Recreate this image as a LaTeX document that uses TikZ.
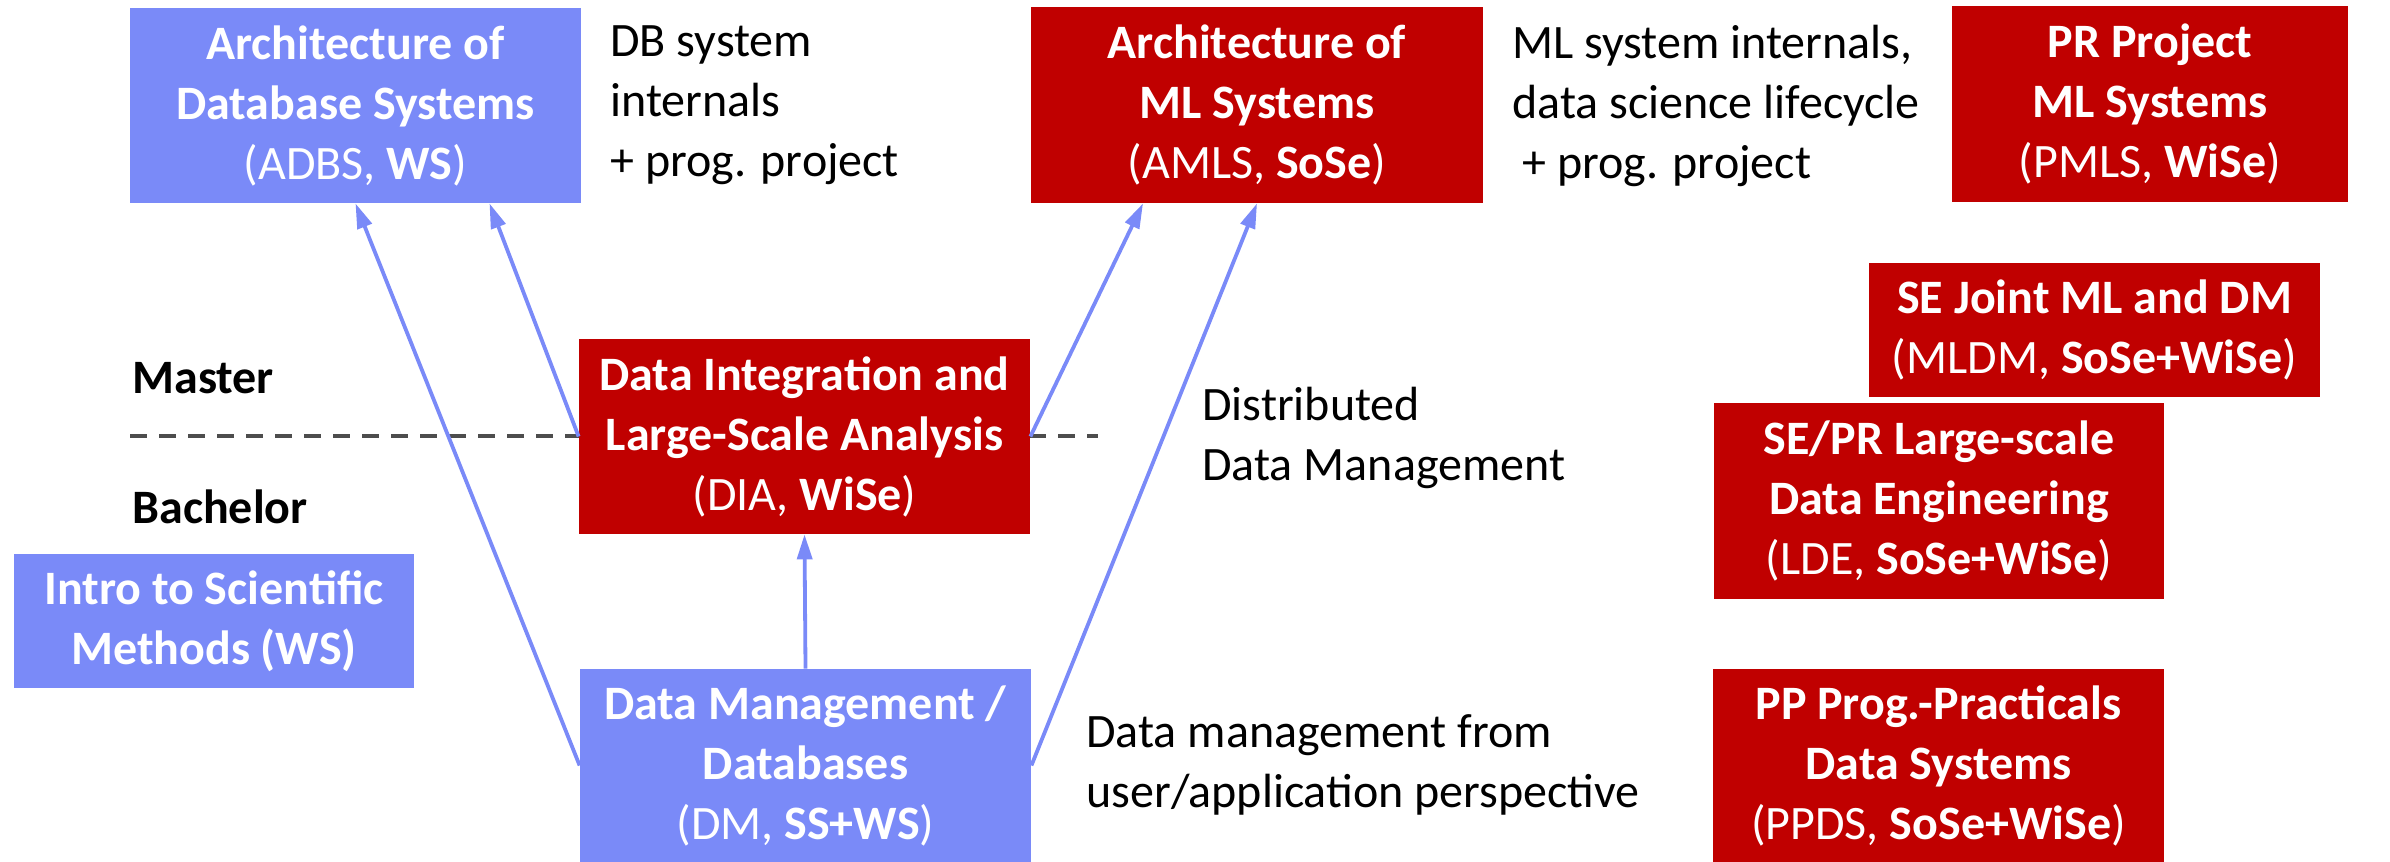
\documentclass[tikz,border=0pt]{standalone}
\usepackage{fontspec}
\setmainfont{Carlito}
\usetikzlibrary{arrows.meta}
\definecolor{boxblue}{RGB}{122,138,248}
\definecolor{boxred}{RGB}{192,0,0}
\definecolor{dashgray}{RGB}{77,77,77}
\tikzset{
  box/.style={rectangle, inner sep=0pt, text=white, align=center, font=\fontsize{24}{30}\selectfont},
  bluebox/.style={box, fill=boxblue},
  redbox/.style={box, fill=boxred},
  desc/.style={anchor=west, align=left, inner sep=0pt, font=\fontsize{24}{30}\selectfont},
  lvl/.style={anchor=west, inner sep=0pt, font=\fontsize{24}{30}\selectfont\bfseries},
  conn/.style={draw=boxblue, line width=1.9pt, -{Triangle[length=12.5pt,width=7.5pt]}},
  divider/.style={draw=dashgray, line width=1.9pt, dash pattern=on 8.5pt off 6pt},
}
\begin{document}
\begin{tikzpicture}[x=0.5pt, y=-0.5pt]
\useasboundingbox (0,0) rectangle (2390,862);

% level divider
\coordinate (dl) at (130,436);
\coordinate (dr) at (1098,436);
\draw[divider] (dl) -- (dr);
\node[lvl] (master) at (132,378) {Master};
\node[lvl] (bachelor) at (132,507) {Bachelor};

% boxes
\node[bluebox, minimum width=225.5pt, minimum height=97.5pt] (ADBS) at (355.5,105.5)
  {\textbf{Architecture of}\\\textbf{Database Systems}\\(ADBS, \textbf{WS})};
\node[redbox, minimum width=226pt, minimum height=98pt] (AMLS) at (1257,105)
  {\textbf{Architecture of}\\\textbf{ML Systems}\\(AMLS, \textbf{SoSe})};
\node[redbox, minimum width=198pt, minimum height=98pt] (PMLS) at (2150,104)
  {\textbf{PR Project}\\\textbf{ML Systems}\\(PMLS, \textbf{WiSe})};
\node[redbox, minimum width=225.5pt, minimum height=97.5pt] (DIA) at (804.5,436.5)
  {\textbf{Data Integration and}\\\textbf{Large-Scale Analysis}\\(DIA, \textbf{WiSe})};
\node[redbox, minimum width=225.5pt, minimum height=67pt] (MLDM) at (2094.5,330)
  {\textbf{SE Joint ML and DM}\\(MLDM, \textbf{SoSe+WiSe})};
\node[redbox, minimum width=225pt, minimum height=98pt] (LDE) at (1939,501)
  {\textbf{SE/PR Large-scale}\\\textbf{Data Engineering}\\(LDE, \textbf{SoSe+WiSe})};
\node[bluebox, minimum width=200pt, minimum height=67pt] (ISM) at (214,621)
  {\textbf{Intro to Scientific}\\\textbf{Methods (WS)}};
\node[bluebox, minimum width=225.5pt, minimum height=96.5pt] (DM) at (805.5,765.5)
  {\textbf{Data Management /}\\\textbf{Databases}\\(DM, \textbf{SS+WS})};
\node[redbox, minimum width=225.5pt, minimum height=96.5pt] (PPDS) at (1938.5,765.5)
  {\textbf{PP Prog.-Practicals}\\\textbf{Data Systems}\\(PPDS, \textbf{SoSe+WiSe})};

% descriptions
\node[desc] (dADBS) at (610,105) {DB system\\internals\\+ prog. project};
\node[desc] (dAMLS) at (1512,106) {ML system internals,\\data science lifecycle\\\hspace{5pt}+ prog. project};
\node[desc] (dDIST) at (1202,438) {Distributed\\Data Management};
\node[desc] (dDM) at (1086,765) {Data management from\\user/application perspective};

% connectors
\draw[conn] (DM.west) -- (ADBS.south);
\draw[conn] (DIA.west) -- ([xshift=67pt]ADBS.south);
\draw[conn] (DIA.east) -- ([xshift=-57pt]AMLS.south);
\draw[conn] (DM.east) -- (AMLS.south);
\draw[conn] (DM.north) -- (DIA.south);
\end{tikzpicture}
\end{document}
